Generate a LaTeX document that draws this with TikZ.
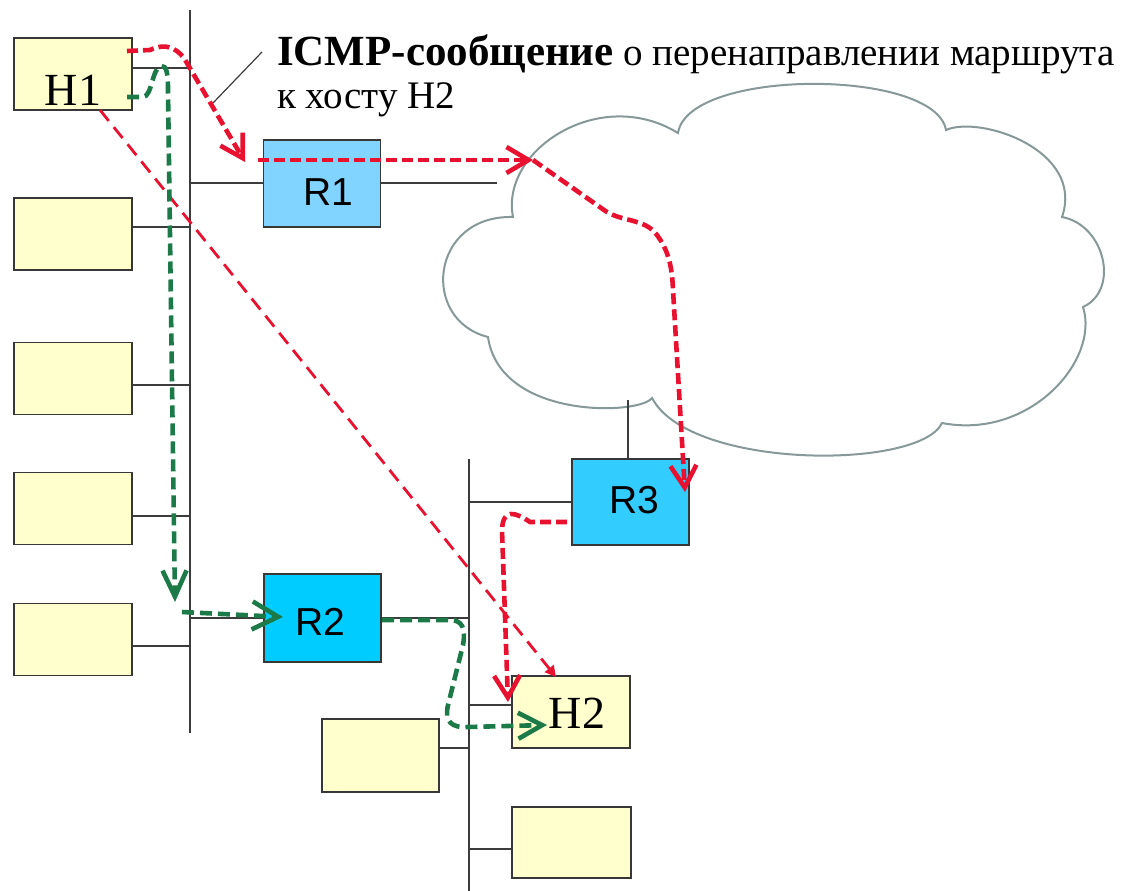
\documentclass[tikz,border=0pt]{standalone}
\usepackage{fontspec}
\setmainfont{Liberation Serif}
\newfontfamily\rfont{Liberation Sans}
\usetikzlibrary{arrows.meta}

\definecolor{hostfill}{RGB}{255,255,206}
\definecolor{rOne}{RGB}{128,212,255}
\definecolor{rTwo}{RGB}{0,204,255}
\definecolor{rThree}{RGB}{51,204,255}
\definecolor{boxline}{RGB}{55,55,55}
\definecolor{wirec}{RGB}{60,60,60}
\definecolor{redc}{RGB}{232,18,48}
\definecolor{greenc}{RGB}{28,122,72}
\definecolor{cloudc}{RGB}{135,152,152}

\tikzset{
  host/.style={draw=boxline, line width=1.6pt, fill=hostfill, inner sep=0pt,
               minimum width=118pt, minimum height=72pt},
  router/.style={draw=boxline, line width=1.6pt, inner sep=0pt,
                 minimum width=117pt, minimum height=87pt},
  rname/.style={inner sep=0pt, font=\rfont\fontsize{39}{40}\selectfont},
  wire/.style={draw=wirec, line width=2pt},
  hostname/.style={anchor=base, font=\fontsize{46}{48}\selectfont, inner sep=0pt},
  redpath/.style={draw=redc, line width=4.6pt, dash pattern=on 11pt off 5pt},
  redthin/.style={draw=redc, line width=2.8pt, dash pattern=on 14pt off 8pt},
  greenpath/.style={draw=greenc, line width=4.6pt, dash pattern=on 12pt off 6pt},
  barb/.style={-{Straight Barb[length=22pt,width=26pt]}},
  leader/.style={draw=wirec, line width=1.2pt}
}

\begin{document}
\begin{tikzpicture}[x=1pt,y=-1pt]
\useasboundingbox (0,0) rectangle (1128,891);
\fill[white] (0,0) rectangle (1128,891);

% network cloud
\draw[cloudc, line width=2pt, fill=white]
  (513,217) .. controls (500,150) and (600,85) .. (678,133)
  .. controls (688,68) and (935,68) .. (946,130)
  .. controls (980,115) and (1085,150) .. (1062,217)
  .. controls (1105,225) and (1120,290) .. (1083,307)
  .. controls (1100,360) and (1030,440) .. (942,423)
  .. controls (920,470) and (690,470) .. (652,398)
  .. controls (640,415) and (500,420) .. (488,337)
  .. controls (420,320) and (430,215) .. cycle;

% bus segments
\coordinate (bus1a) at (190,10);
\coordinate (bus1b) at (190,733);
\coordinate (bus2a) at (469,459);
\coordinate (bus2b) at (469,891);
\draw[wire] (bus1a) -- (bus1b);
\draw[wire] (bus2a) -- (bus2b);

% hosts
\node[host] (h1) at (73,74) {};
\node[host] (hA) at (73,234) {};
\node[host] (hB) at (73,378.5) {};
\node[host] (hC) at (73,508.5) {};
\node[host] (hD) at (73,639.5) {};
\node[host] (h2) at (571,712) {};
\node[host, minimum width=117pt, minimum height=73pt] (hE) at (380.5,755.5) {};
\node[host, minimum width=119pt, minimum height=71pt] (hF) at (571.5,842.5) {};
\node[hostname] at ([yshift=5pt]h1.south) {H1};
\node[hostname] at ([xshift=6pt,yshift=20pt]h2.south) {H2};

% routers
\node[router, fill=rOne] (r1) at (322,183.5) {};
\node[router, fill=rTwo, minimum height=88pt] (r2) at (322.5,618) {};
\node[router, fill=rThree, minimum height=86pt] (r3) at (630.5,502) {};
\node[rname] at ([xshift=6pt,yshift=-9pt]r1.center) {R1};
\node[rname] at ([xshift=-2pt,yshift=-4pt]r2.center) {R2};
\node[rname] at ([xshift=4pt,yshift=2pt]r3.center) {R3};

% host and router attachments
\draw[wire] (h1.east |- 0,68) -- (bus1a |- 0,68);
\draw[wire] (hA.east |- 0,227) -- (bus1a |- 0,227);
\draw[wire] (hB.east |- 0,385) -- (bus1a |- 0,385);
\draw[wire] (hC.east |- 0,516) -- (bus1a |- 0,516);
\draw[wire] (hD.east |- 0,646) -- (bus1a |- 0,646);
\coordinate (r1end) at (497,183);
\draw[wire] (bus1a |- 0,183) -- (r1.west |- 0,183);
\draw[wire] (r1.east |- 0,183) -- (r1end);
\draw[wire] (bus1a |- 0,618) -- (r2.west |- 0,618);
\draw[wire] (r2.east |- 0,618) -- (bus2a |- 0,618);
\draw[wire] (bus2a |- 0,502) -- (r3.west |- 0,502);
\coordinate (cloudfoot) at (628,400);
\draw[wire, line width=1.6pt] (cloudfoot) -- (cloudfoot |- r3.north);
\draw[wire] (bus2a |- 0,705) -- (h2.west |- 0,705);
\draw[wire] (hE.east |- 0,748) -- (bus2a |- 0,748);
\draw[wire] (bus2a |- 0,849) -- (hF.west |- 0,849);

% caption with leader
\coordinate (ld1) at (213,103);
\coordinate (ld2) at (262,52);
\draw[leader] (ld1) -- (ld2);
\node[anchor=base west, inner sep=0pt] (cap1) at (277,66)
  {\fontsize{43}{44}\selectfont\textbf{ICMP-сообщение}\fontsize{39}{44}\selectfont{} о перенаправлении маршрута};
\node[anchor=base west, inner sep=0pt] (cap2) at (277,109)
  {\fontsize{39}{44}\selectfont к хосту Н2};

% route points
\coordinate (p1) at (127,51);
\coordinate (r1in) at (245,162);
\coordinate (r1a) at (258,160);
\coordinate (cloudin) at (533,160);
\coordinate (r3in) at (685,492);
\coordinate (r3out) at (567,522);
\coordinate (h2in) at (508,702);
\coordinate (hdiag) at (100,110);
\coordinate (h2top) at (556,677);
\coordinate (g1) at (127,97);
\coordinate (gdown) at (175,602);
\coordinate (g2a) at (182,612);
\coordinate (r2in) at (283,617);
\coordinate (r2out) at (382,620);
\coordinate (h2g) at (547,725);

% original route (red)
\draw[redthin, -{Triangle[length=11pt,width=11pt]}] (hdiag) -- (h2top);
\draw[redpath, barb] (p1) -- (150,50) .. controls (165,43) and (175,47) .. (184,58) -- (r1in);
\draw[redpath, barb] (r1a) -- (cloudin);
\draw[redpath, barb] (cloudin) -- (604,210) .. controls (620,222) and (645,218) .. (657,235)
  .. controls (668,250) and (672,265) .. (673,290) -- (r3in);
\draw[redpath, barb] (r3out) -- (530,522) .. controls (515,512) and (503,508) .. (502,530) -- (h2in);

% redirected route (green)
\draw[greenpath, -{Straight Barb[length=26pt,width=24pt]}]
  (g1) -- (143,97) .. controls (152,97) and (152,68) .. (161,66)
  .. controls (167,65) and (168,75) .. (168,90) -- (gdown);
\draw[greenpath, -{Straight Barb[length=26pt,width=28pt]}] (g2a) -- (r2in);
\draw[greenpath, -{Straight Barb[length=24pt,width=26pt]}]
  (r2out) -- (450,620) .. controls (462,620) and (466,628) .. (463,645)
  -- (448,705) .. controls (444,722) and (452,728) .. (468,727) -- (h2g);
\end{tikzpicture}
\end{document}
